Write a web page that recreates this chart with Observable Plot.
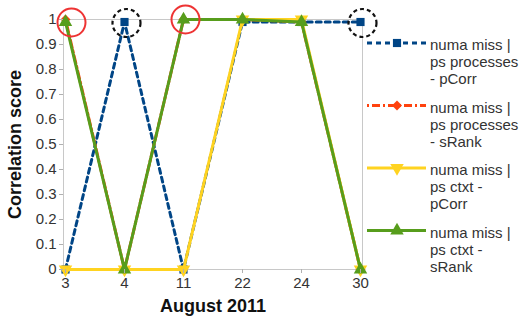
<!DOCTYPE html>
<html>
<head>
<meta charset="utf-8">
<script src="https://cdn.jsdelivr.net/npm/d3@7"></script>
<script src="https://cdn.jsdelivr.net/npm/@observablehq/plot@0.6"></script>
<style>
  body { margin: 0; background: #fff; font-family: "Liberation Sans", Arial, sans-serif; }
  #wrap { position: relative; width: 519px; height: 322px; }
  #legend { position: absolute; left: 0; top: 0; width: 519px; height: 322px; pointer-events: none; }
  .lt { position: absolute; left: 430px; font-size: 15px; line-height: 17px; color: #333; white-space: nowrap; }
</style>
</head>
<body>
<div id="wrap"></div>
<script>
// ---- data ----
const days = ["3", "4", "11", "22", "24", "30"];
const procPCorr = [0, 0.99, 0, 0.99, 0.99, 0.99];
const procSRank = [1, 0, 1, 1, 0.99, 0];
const ctxtPCorr = [0, 0, 0, 1, 1, 0];
const ctxtSRank = [0.99, 0, 1, 1, 0.99, 0];
const seriesNames = [
  "numa miss | ps processes - pCorr",
  "numa miss | ps processes - sRank",
  "numa miss | ps ctxt - pCorr",
  "numa miss | ps ctxt - sRank"
];
const legendLines = [
  ["numa miss |", "ps processes", "- pCorr"],
  ["numa miss |", "ps processes", "- sRank"],
  ["numa miss |", "ps ctxt -", "pCorr"],
  ["numa miss |", "ps ctxt -", "sRank"]
];
const yTicks = [0, 0.1, 0.2, 0.3, 0.4, 0.5, 0.6, 0.7, 0.8, 0.9, 1];
// highlighted points (annotations)
const redCircles = [{day: "3", v: 1}, {day: "11", v: 1}];
const blackCircles = [{day: "4", v: 0.99}, {day: "30", v: 0.99}];

// ---- styles ----
const styles = [
  {color: "#004586", dash: "5,4", symbol: "square", r: 4.6, rotate: 0},
  {color: "#ff420e", dash: "2,3,8,3", symbol: "diamond2", r: 4.5, rotate: 0},
  {color: "#ffd320", dash: null, symbol: "triangle", r: 5, rotate: 180},
  {color: "#579d1c", dash: null, symbol: "triangle", r: 5, rotate: 0}
];
const allValues = [procPCorr, procSRank, ctxtPCorr, ctxtSRank];
const tables = allValues.map((vals, i) => days.map((d, j) => ({day: d, v: vals[j], s: seriesNames[i]})));

const marks = [
  Plot.frame({stroke: "#c8c8c8", strokeWidth: 1})
];
tables.forEach((t, i) => {
  const st = styles[i];
  marks.push(Plot.line(t, {x: "day", y: "v", stroke: st.color, strokeWidth: 3,
    strokeDasharray: st.dash, strokeLinejoin: "round"}));
  marks.push(Plot.dot(t, {x: "day", y: "v", symbol: () => st.symbol, r: st.r, fill: st.color,
    stroke: "none", rotate: st.rotate}));
});
marks.push(Plot.dot(redCircles.slice(0, 1), {x: "day", y: "v", r: 14, stroke: "#ee3333", strokeWidth: 2, fill: "none", dx: 6, dy: 3}));
marks.push(Plot.dot(redCircles.slice(1), {x: "day", y: "v", r: 14, stroke: "#ee3333", strokeWidth: 2, fill: "none", dx: 2}));
marks.push(Plot.dot(blackCircles, {x: "day", y: "v", r: 14, stroke: "#111", strokeWidth: 2.2, fill: "none", strokeDasharray: "4,3", dx: 2, dy: 1}));

const chart = Plot.plot({
  width: 519,
  height: 322,
  marginLeft: 63,
  marginRight: 157,
  marginTop: 19,
  marginBottom: 53,
  style: {fontFamily: "Liberation Sans, Arial, sans-serif", fontSize: "15px", color: "#333", background: "#fff", overflow: "visible"},
  x: {type: "point", domain: days, padding: 0, label: null},
  y: {domain: [0, 1], label: null},
  marks: [
    ...marks,
    Plot.axisY(yTicks, {tickSize: 4, tickPadding: 3, stroke: "#b0b0b0", fill: "#333", fontSize: 15, tickFormat: d => String(d)}),
    Plot.axisX(days, {tickSize: 4, tickPadding: 4, stroke: "#b0b0b0", fill: "#333", fontSize: 15}),
    Plot.text(["Correlation score"], {frameAnchor: "left", textAnchor: "middle", dx: -48, rotate: -90, fontWeight: "bold", fontSize: 18, fill: "#111", text: d => d}),
    Plot.text(["August 2011"], {frameAnchor: "bottom", dy: 42, fontWeight: "bold", fontSize: 18, fill: "#111", text: d => d})
  ]
});
document.getElementById("wrap").appendChild(chart);

// ---- legend (HTML/SVG overlay) ----
const legend = document.createElement("div");
legend.id = "legend";
const svgNS = "http://www.w3.org/2000/svg";
const lsvg = document.createElementNS(svgNS, "svg");
lsvg.setAttribute("width", 519); lsvg.setAttribute("height", 322);
lsvg.style.position = "absolute"; lsvg.style.left = "0"; lsvg.style.top = "0";
legend.appendChild(lsvg);
const legendTop = 43, legendStep = 62.5;
styles.forEach((st, i) => {
  const y = legendTop + i * legendStep;
  const line = document.createElementNS(svgNS, "line");
  line.setAttribute("x1", 367); line.setAttribute("x2", 426);
  line.setAttribute("y1", y); line.setAttribute("y2", y);
  line.setAttribute("stroke", st.color); line.setAttribute("stroke-width", 3);
  if (st.dash) line.setAttribute("stroke-dasharray", st.dash);
  lsvg.appendChild(line);
  const sym = {square: d3.symbolSquare, diamond2: d3.symbolDiamond2, triangle: d3.symbolTriangle}[st.symbol];
  const p = document.createElementNS(svgNS, "path");
  p.setAttribute("d", d3.symbol(sym, Math.PI * st.r * st.r)());
  p.setAttribute("fill", st.color);
  p.setAttribute("transform", `translate(397,${y}) rotate(${st.rotate})`);
  lsvg.appendChild(p);
  const t = document.createElement("div");
  t.className = "lt";
  t.style.top = (y - 7) + "px";
  t.innerHTML = legendLines[i].join("<br>");
  legend.appendChild(t);
});
document.getElementById("wrap").appendChild(legend);
</script>
</body>
</html>
